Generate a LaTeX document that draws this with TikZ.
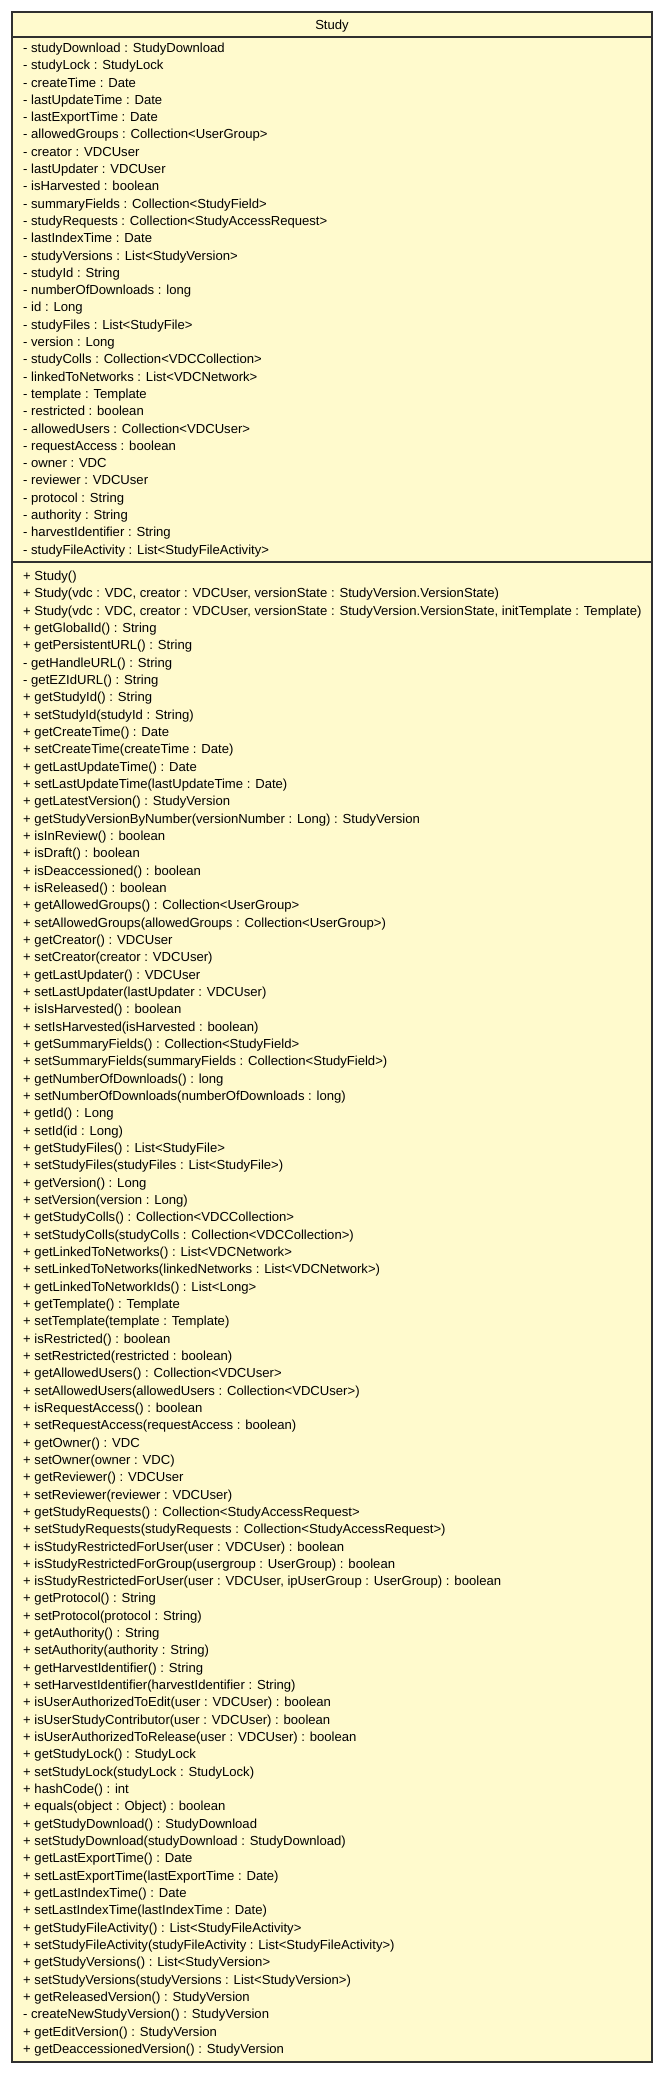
\documentclass[tikz,border=0pt]{standalone}
\usepackage{fontspec}
\setmainfont{Liberation Sans}
\definecolor{umlfill}{HTML}{FFFACD}
\definecolor{umlline}{HTML}{303030}
\begin{document}
\begin{tikzpicture}[x=1pt,y=-1pt,
  txt/.style={anchor=base west,inner sep=0pt,font=\fontsize{13.1}{15}\selectfont},
  ttl/.style={anchor=base,inner sep=0pt,font=\fontsize{13.1}{15}\selectfont},
  frame/.style={draw=umlline,line width=1.1pt}]
\useasboundingbox (0,0) rectangle (667,2075);
\draw[frame,fill=umlfill] (12,12) rectangle (652,2062);
\draw[frame] (12,37) -- (652,37);
\draw[frame] (12,562) -- (652,562);
\node[ttl] (title) at (332,29.2) {Study};
\foreach \t [count=\i] in {
{- studyDownload : StudyDownload},
{- studyLock : StudyLock},
{- createTime : Date},
{- lastUpdateTime : Date},
{- lastExportTime : Date},
{- allowedGroups : Collection<UserGroup>},
{- creator : VDCUser},
{- lastUpdater : VDCUser},
{- isHarvested : boolean},
{- summaryFields : Collection<StudyField>},
{- studyRequests : Collection<StudyAccessRequest>},
{- lastIndexTime : Date},
{- studyVersions : List<StudyVersion>},
{- studyId : String},
{- numberOfDownloads : long},
{- id : Long},
{- studyFiles : List<StudyFile>},
{- version : Long},
{- studyColls : Collection<VDCCollection>},
{- linkedToNetworks : List<VDCNetwork>},
{- template : Template},
{- restricted : boolean},
{- allowedUsers : Collection<VDCUser>},
{- requestAccess : boolean},
{- owner : VDC},
{- reviewer : VDCUser},
{- protocol : String},
{- authority : String},
{- harvestIdentifier : String},
{- studyFileActivity : List<StudyFileActivity>}}
  \node[txt] (a\i) at (23,{52.4+17.3*(\i-1)}) {\t};
\foreach \t [count=\i] in {
{+ Study()},
{+ Study(vdc : VDC, creator : VDCUser, versionState : StudyVersion.VersionState)},
{+ Study(vdc : VDC, creator : VDCUser, versionState : StudyVersion.VersionState, initTemplate : Template)},
{+ getGlobalId() : String},
{+ getPersistentURL() : String},
{- getHandleURL() : String},
{- getEZIdURL() : String},
{+ getStudyId() : String},
{+ setStudyId(studyId : String)},
{+ getCreateTime() : Date},
{+ setCreateTime(createTime : Date)},
{+ getLastUpdateTime() : Date},
{+ setLastUpdateTime(lastUpdateTime : Date)},
{+ getLatestVersion() : StudyVersion},
{+ getStudyVersionByNumber(versionNumber : Long) : StudyVersion},
{+ isInReview() : boolean},
{+ isDraft() : boolean},
{+ isDeaccessioned() : boolean},
{+ isReleased() : boolean},
{+ getAllowedGroups() : Collection<UserGroup>},
{+ setAllowedGroups(allowedGroups : Collection<UserGroup>)},
{+ getCreator() : VDCUser},
{+ setCreator(creator : VDCUser)},
{+ getLastUpdater() : VDCUser},
{+ setLastUpdater(lastUpdater : VDCUser)},
{+ isIsHarvested() : boolean},
{+ setIsHarvested(isHarvested : boolean)},
{+ getSummaryFields() : Collection<StudyField>},
{+ setSummaryFields(summaryFields : Collection<StudyField>)},
{+ getNumberOfDownloads() : long},
{+ setNumberOfDownloads(numberOfDownloads : long)},
{+ getId() : Long},
{+ setId(id : Long)},
{+ getStudyFiles() : List<StudyFile>},
{+ setStudyFiles(studyFiles : List<StudyFile>)},
{+ getVersion() : Long},
{+ setVersion(version : Long)},
{+ getStudyColls() : Collection<VDCCollection>},
{+ setStudyColls(studyColls : Collection<VDCCollection>)},
{+ getLinkedToNetworks() : List<VDCNetwork>},
{+ setLinkedToNetworks(linkedNetworks : List<VDCNetwork>)},
{+ getLinkedToNetworkIds() : List<Long>},
{+ getTemplate() : Template},
{+ setTemplate(template : Template)},
{+ isRestricted() : boolean},
{+ setRestricted(restricted : boolean)},
{+ getAllowedUsers() : Collection<VDCUser>},
{+ setAllowedUsers(allowedUsers : Collection<VDCUser>)},
{+ isRequestAccess() : boolean},
{+ setRequestAccess(requestAccess : boolean)},
{+ getOwner() : VDC},
{+ setOwner(owner : VDC)},
{+ getReviewer() : VDCUser},
{+ setReviewer(reviewer : VDCUser)},
{+ getStudyRequests() : Collection<StudyAccessRequest>},
{+ setStudyRequests(studyRequests : Collection<StudyAccessRequest>)},
{+ isStudyRestrictedForUser(user : VDCUser) : boolean},
{+ isStudyRestrictedForGroup(usergroup : UserGroup) : boolean},
{+ isStudyRestrictedForUser(user : VDCUser, ipUserGroup : UserGroup) : boolean},
{+ getProtocol() : String},
{+ setProtocol(protocol : String)},
{+ getAuthority() : String},
{+ setAuthority(authority : String)},
{+ getHarvestIdentifier() : String},
{+ setHarvestIdentifier(harvestIdentifier : String)},
{+ isUserAuthorizedToEdit(user : VDCUser) : boolean},
{+ isUserStudyContributor(user : VDCUser) : boolean},
{+ isUserAuthorizedToRelease(user : VDCUser) : boolean},
{+ getStudyLock() : StudyLock},
{+ setStudyLock(studyLock : StudyLock)},
{+ hashCode() : int},
{+ equals(object : Object) : boolean},
{+ getStudyDownload() : StudyDownload},
{+ setStudyDownload(studyDownload : StudyDownload)},
{+ getLastExportTime() : Date},
{+ setLastExportTime(lastExportTime : Date)},
{+ getLastIndexTime() : Date},
{+ setLastIndexTime(lastIndexTime : Date)},
{+ getStudyFileActivity() : List<StudyFileActivity>},
{+ setStudyFileActivity(studyFileActivity : List<StudyFileActivity>)},
{+ getStudyVersions() : List<StudyVersion>},
{+ setStudyVersions(studyVersions : List<StudyVersion>)},
{+ getReleasedVersion() : StudyVersion},
{- createNewStudyVersion() : StudyVersion},
{+ getEditVersion() : StudyVersion},
{+ getDeaccessionedVersion() : StudyVersion}}
  \node[txt] (m\i) at (23,{580.5+17.33*(\i-1)}) {\t};
\end{tikzpicture}
\end{document}
